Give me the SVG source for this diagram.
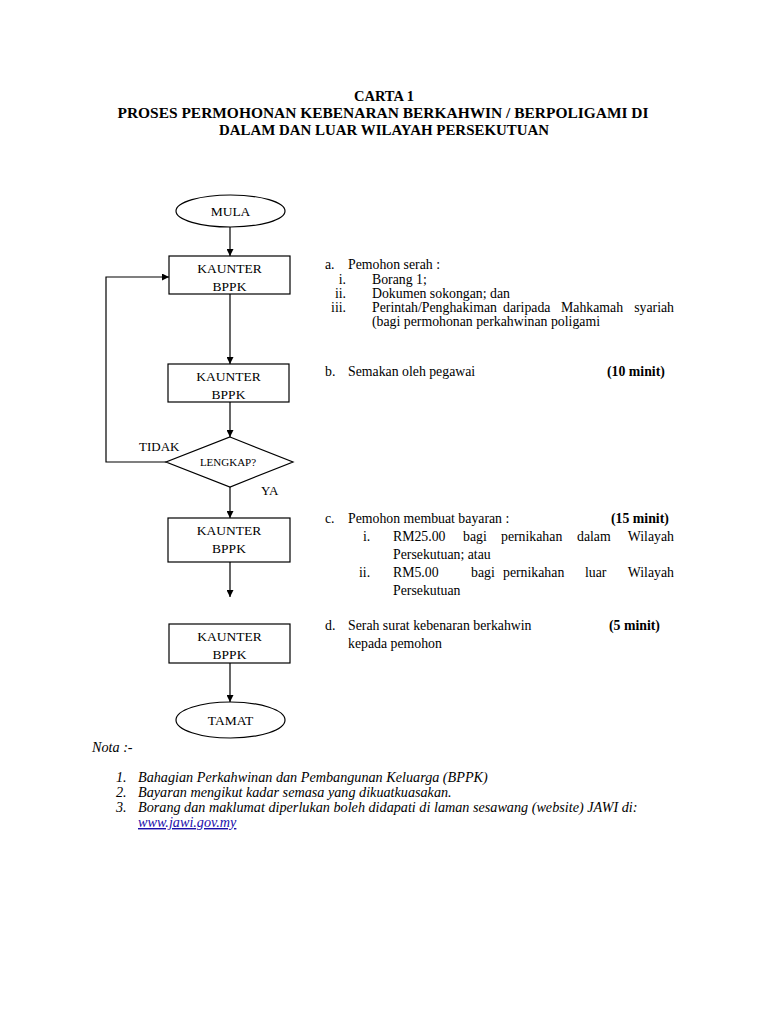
<svg xmlns="http://www.w3.org/2000/svg" width="768" height="1024" viewBox="0 0 768 1024">
<style>
.t{font-family:"Liberation Serif","Times New Roman",serif;fill:#000}
.title{font-size:14.5px;font-weight:bold}
.nd{font-size:13.5px}
.sm{font-size:11px}
.b{font-size:13px}
.r{font-size:13.8px}
.bold{font-weight:bold}
.it{font-size:14.2px;font-style:italic}
.shape{fill:#fff;stroke:#000;stroke-width:1.2}
.ln{fill:none;stroke:#000;stroke-width:1.2}
</style>
<defs>
<marker id="ah" viewBox="0 0 10 10" refX="10" refY="5" markerWidth="7" markerHeight="7" markerUnits="userSpaceOnUse" orient="auto">
<path d="M0,0 L10,5 L0,10 z" fill="#000"/>
</marker>
</defs>
<rect width="768" height="1024" fill="#fff"/>
<g id="title" class="t title" text-anchor="middle">
<text x="384" y="101">CARTA 1</text>
<text x="383" y="118" textLength="531" lengthAdjust="spacingAndGlyphs">PROSES PERMOHONAN KEBENARAN BERKAHWIN / BERPOLIGAMI DI</text>
<text x="384" y="135" textLength="330" lengthAdjust="spacingAndGlyphs">DALAM DAN LUAR WILAYAH PERSEKUTUAN</text>
</g>
<g id="connectors">
<line class="ln" x1="230" y1="227" x2="230" y2="256" marker-end="url(#ah)"/>
<line class="ln" x1="230" y1="294" x2="230" y2="364" marker-end="url(#ah)"/>
<line class="ln" x1="230" y1="402" x2="230" y2="437" marker-end="url(#ah)"/>
<line class="ln" x1="230" y1="487" x2="230" y2="518" marker-end="url(#ah)"/>
<line class="ln" x1="230" y1="562" x2="230" y2="597" marker-end="url(#ah)"/>
<line class="ln" x1="230" y1="663" x2="230" y2="702" marker-end="url(#ah)"/>
<polyline class="ln" points="166,462 106,462 106,277 169,277" marker-end="url(#ah)"/>
<text class="t b" x="139" y="451">TIDAK</text>
<text class="t b" x="261" y="495">YA</text>
</g>
<g id="mula">
<ellipse class="shape" cx="230.5" cy="211" rx="54.5" ry="16"/>
<text class="t nd" x="230.5" y="216" text-anchor="middle">MULA</text>
</g>
<g id="kaunter1">
<rect class="shape" x="169" y="256" width="121" height="38"/>
<text class="t nd" x="229.5" y="273" text-anchor="middle">KAUNTER</text>
<text class="t nd" x="229.5" y="291" text-anchor="middle">BPPK</text>
</g>
<g id="kaunter2">
<rect class="shape" x="168" y="364" width="121" height="38"/>
<text class="t nd" x="228.5" y="381" text-anchor="middle">KAUNTER</text>
<text class="t nd" x="228.5" y="399" text-anchor="middle">BPPK</text>
</g>
<g id="lengkap">
<polygon class="shape" points="230,437 293,462 230,487 166,462"/>
<text class="t sm" x="228" y="466" text-anchor="middle">LENGKAP?</text>
</g>
<g id="kaunter3">
<rect class="shape" x="168" y="518" width="122" height="44"/>
<text class="t nd" x="229" y="535" text-anchor="middle">KAUNTER</text>
<text class="t nd" x="229" y="553" text-anchor="middle">BPPK</text>
</g>
<g id="kaunter4">
<rect class="shape" x="169" y="624" width="121" height="39"/>
<text class="t nd" x="229.5" y="641" text-anchor="middle">KAUNTER</text>
<text class="t nd" x="229.5" y="659" text-anchor="middle">BPPK</text>
</g>
<g id="tamat">
<ellipse class="shape" cx="230.5" cy="720" rx="54.5" ry="18"/>
<text class="t nd" x="230.5" y="725" text-anchor="middle">TAMAT</text>
</g>
<g id="desc-a" class="t r">
<text x="325" y="269">a.</text>
<text x="348" y="269">Pemohon serah :</text>
<text x="346" y="284" text-anchor="end">i.</text>
<text x="372" y="284">Borang 1;</text>
<text x="346" y="298" text-anchor="end">ii.</text>
<text x="372" y="298">Dokumen sokongan; dan</text>
<text x="346" y="312" text-anchor="end">iii.</text>
<text x="372" y="312">Perintah/Penghakiman</text>
<text x="503" y="312">daripada</text>
<text x="561" y="312">Mahkamah</text>
<text x="674" y="312" text-anchor="end">syariah</text>
<text x="372" y="326">(bagi permohonan perkahwinan poligami</text>
</g>
<g id="desc-b" class="t r">
<text x="325" y="376">b.</text>
<text x="348" y="376">Semakan oleh pegawai</text>
<text x="607" y="376" class="bold">(10 minit)</text>
</g>
<g id="desc-c" class="t r">
<text x="325" y="523">c.</text>
<text x="348" y="523">Pemohon membuat bayaran :</text>
<text x="611" y="523" class="bold">(15 minit)</text>
<text x="363" y="541">i.</text>
<text x="393" y="541">RM25.00</text>
<text x="463" y="541">bagi</text>
<text x="501" y="541">pernikahan</text>
<text x="577" y="541">dalam</text>
<text x="674" y="541" text-anchor="end">Wilayah</text>
<text x="393" y="559">Persekutuan; atau</text>
<text x="359" y="577">ii.</text>
<text x="393" y="577">RM5.00</text>
<text x="471" y="577">bagi</text>
<text x="503" y="577">pernikahan</text>
<text x="585" y="577">luar</text>
<text x="674" y="577" text-anchor="end">Wilayah</text>
<text x="393" y="595">Persekutuan</text>
</g>
<g id="desc-d" class="t r">
<text x="325" y="630">d.</text>
<text x="348" y="630">Serah surat kebenaran berkahwin</text>
<text x="609" y="630" class="bold">(5 minit)</text>
<text x="348" y="648">kepada pemohon</text>
</g>
<g id="nota" class="t it">
<text x="92" y="752">Nota :-</text>
<text x="116" y="782">1.</text>
<text x="138" y="782">Bahagian Perkahwinan dan Pembangunan Keluarga (BPPK)</text>
<text x="116" y="797">2.</text>
<text x="138" y="797">Bayaran mengikut kadar semasa yang dikuatkuasakan.</text>
<text x="116" y="812">3.</text>
<text x="138" y="812">Borang dan maklumat diperlukan boleh didapati di laman sesawang (website) JAWI di:</text>
<text x="138" y="827" style="fill:#1a0dab" text-decoration="underline">www.jawi.gov.my</text>
</g>
</svg>
